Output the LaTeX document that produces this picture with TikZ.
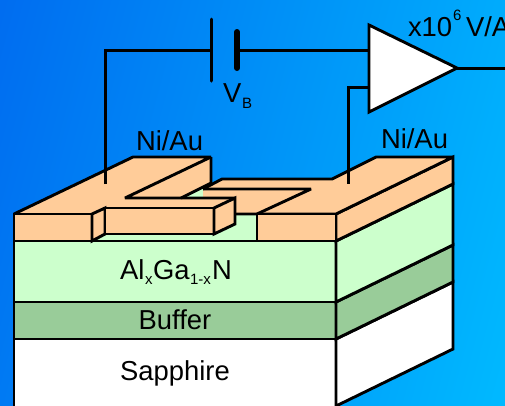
\documentclass[tikz,border=0pt]{standalone}
\usepackage{fontspec}
\setmainfont{Liberation Sans}
\newcommand{\bigtxt}{\fontsize{27.4bp}{30bp}\selectfont}
\newcommand{\subtxt}{\fontsize{15bp}{17bp}\selectfont}
\definecolor{metal}{HTML}{FFCC99}
\definecolor{algan}{HTML}{CCFFCC}
\definecolor{bufc}{HTML}{99CC99}
\tikzset{
  solid box/.style={draw=black,line width=2.9bp,line join=miter,miter limit=3},
  wire/.style={draw=black,line width=3bp},
  lbl/.style={inner sep=0pt,outer sep=0pt,anchor=base west,text=black,font=\bigtxt},
  lblc/.style={inner sep=0pt,outer sep=0pt,anchor=base,text=black,font=\bigtxt},
  slbl/.style={inner sep=0pt,outer sep=0pt,anchor=base west,text=black,font=\subtxt},
}
\begin{document}
\begin{tikzpicture}[x=1bp,y=-1bp]
\useasboundingbox (0,0) rectangle (505,405);
\begin{scope}
\clip (0,0) rectangle (505,405);
\shade[left color={rgb,255:red,0;green,108;blue,240},right color={rgb,255:red,0;green,186;blue,255},shading angle=75] (-60,-60) rectangle (565,465);
% --- stack, front faces
\path[solid box,fill=white]  (14,339) -- (336,339) -- (336,420) -- (14,420) -- cycle;
\path[solid box,fill=bufc]   (14,302) -- (336,302) -- (336,339) -- (14,339) -- cycle;
\path[solid box,fill=algan]  (14,241) -- (336,241) -- (336,302) -- (14,302) -- cycle;
% --- stack, side faces
\path[solid box,fill=white]  (336,339) -- (453,282) -- (453,349) -- (336,406) -- cycle;
\path[solid box,fill=bufc]   (336,302) -- (453,245) -- (453,282) -- (336,339) -- cycle;
\path[solid box,fill=algan]  (336,241) -- (453,184) -- (453,245) -- (336,302) -- cycle;
\path[solid box,fill=metal]  (336,214) -- (453,157) -- (453,184) -- (336,241) -- cycle;
% --- open surface
\path[fill=algan] (92,241) -- (92,214) -- (181,198) -- (203,187) -- (257,187) -- (257,241) -- cycle;
% --- right contact
\path[fill=metal]  (203,189) -- (222,179) -- (332,179) -- (376,157) -- (453,157) -- (336,214) -- (257,214) -- (203,214) -- cycle;
\path[solid box] (203,189) -- (222,179) -- (332,179) -- (376,157) -- (453,157) -- (336,214) -- (257,214) -- (203,214);
\path[solid box] (203,189) -- (311,189) -- (257,214);
\path[solid box,fill=metal]  (257,214) -- (336,214) -- (336,241) -- (257,241) -- cycle;
% --- left contact
\path[fill=metal] (14,214) -- (133,157) -- (211,157) -- (211,183) -- (181,198) -- (235,198) -- (214,208) -- (105,208) -- (92,214) -- cycle;
\path[solid box] (14,214) -- (133,157) -- (211,157) -- (125,198) -- (235,198);
\path[solid box] (211,157) -- (211,183) -- (181,198);
\path[solid box,fill=metal]  (14,214) -- (92,214) -- (92,241) -- (14,241) -- cycle;
\path[solid box,fill=metal]  (92,214) -- (105,208) -- (105,234) -- (92,241) -- cycle;
\path[solid box,fill=metal]  (105,208) -- (214,208) -- (214,234) -- (105,234) -- cycle;
\path[solid box,fill=metal]  (214,208) -- (235,198) -- (235,224) -- (214,234) -- cycle;
\path[solid box] (92,241) -- (336,241);
\end{scope}
% --- named circuit points
\coordinate (contactL) at (105,184);
\coordinate (cornerL) at (105,50);
\coordinate (plateA) at (211,50);
\coordinate (plateAt) at (211,19);
\coordinate (plateAb) at (211,81);
\coordinate (plateB) at (237,50);
\coordinate (plateBt) at (237,32);
\coordinate (plateBb) at (237,68);
\coordinate (ampIn) at (369,50);
\coordinate (ampInB) at (369,87);
\coordinate (cornerR) at (348,87);
\coordinate (contactR) at (348,184);
\coordinate (ampOut) at (457,68);
\coordinate (outEnd) at (505,68);
\draw[wire,line join=miter] (contactL) -- (cornerL) -- (plateA);
\draw[wire,line cap=round] (plateAt) -- (plateAb);
\draw[line width=6bp,line cap=round] (plateBt) -- (plateBb);
\draw[wire] (plateB) -- (ampIn);
\draw[wire,line join=miter] (ampInB) -- (cornerR) -- (contactR);
\draw[wire] (ampOut) -- (outEnd);
\path[solid box,fill=white] (369,25) -- (ampOut) -- (369,112) -- cycle;
% --- labels
\node[lblc] (niauL) at (169.5,150) {Ni/Au};
\node[lblc] (niauR) at (414.5,148) {Ni/Au};
\begin{scope}
\clip (0,0) rectangle (505,405);
\node[lbl] (gainA) at (408,36) {x10};
\node[slbl] (gainB) at (453,20) {6};
\node[lbl] (gainC) at (466,36) {V/A};
\end{scope}
\node[lbl] (vb) at (223,102) {V};
\node[slbl] (vbs) at (242,108) {B};
\node[lbl] (al) at (120,279) {Al};
\node[slbl] (alx) at (145,284) {x};
\node[lbl] (ga) at (153,279) {Ga};
\node[slbl] (gas) at (190,284) {1-x};
\node[lbl] (n) at (212,279) {N};
\node[lblc] (buffer) at (175,329) {Buffer};
\node[lblc] (sapphire) at (175,380) {Sapphire};
\end{tikzpicture}
\end{document}
